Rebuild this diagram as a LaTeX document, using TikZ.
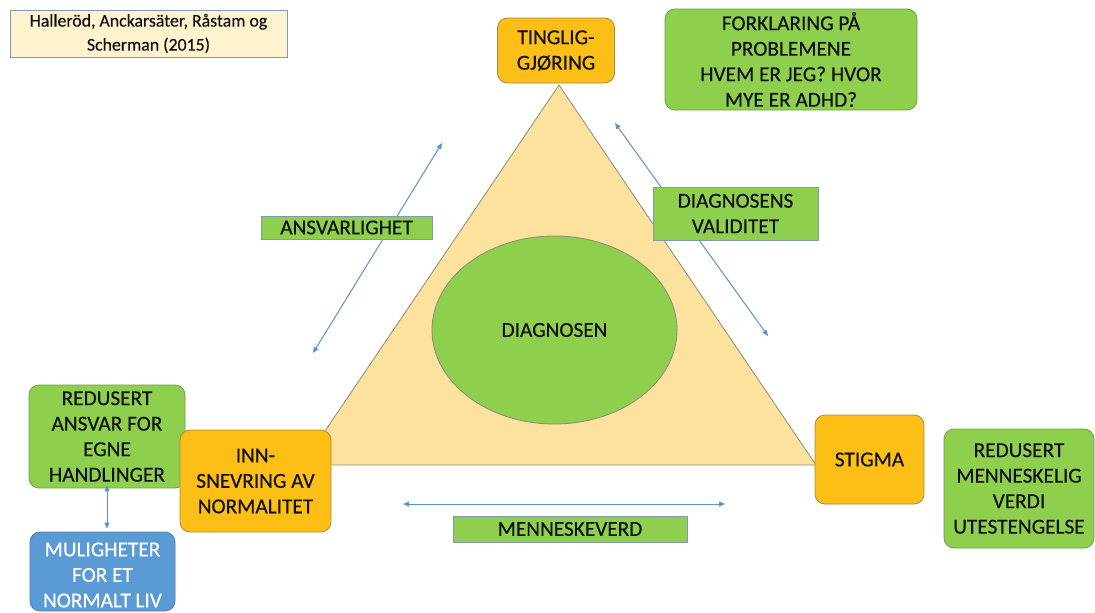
\documentclass[tikz,border=0pt]{standalone}
\usepackage{fontspec}
\setmainfont{Carlito}
\newfontface\labelfont{Carlito}[FakeBold=0.35]
\usetikzlibrary{arrows.meta,shapes.geometric}

\definecolor{boxgreen}{HTML}{8ECF4E}
\definecolor{greenline}{HTML}{6F9E45}
\definecolor{boxorange}{HTML}{FDBE16}
\definecolor{orangeline}{HTML}{A88A3C}
\definecolor{boxblue}{HTML}{5B9BD5}
\definecolor{blueline}{HTML}{4A7FB0}
\definecolor{trifill}{HTML}{FDE29E}
\definecolor{triline}{HTML}{8A8A80}
\definecolor{refill}{HTML}{FFF2CF}
\definecolor{refline}{HTML}{8197B4}
\definecolor{arrowblue}{HTML}{5B92CC}
\definecolor{ink}{HTML}{111111}

\tikzset{
  txt/.style={font=\labelfont\fontsize{21.3}{25.5}\selectfont, text=ink, align=center, inner sep=0pt},
  roundbox/.style={txt, rounded corners=10pt, line width=0.8pt},
  greenbox/.style={roundbox, fill=boxgreen, draw=greenline},
  orangebox/.style={roundbox, fill=boxorange, draw=orangeline},
  bluebox/.style={roundbox, fill=boxblue, draw=blueline, text=white},
  labelbox/.style={txt, fill=boxgreen, draw=refline, line width=0.7pt},
  refbox/.style={txt, font=\labelfont\fontsize{17.8}{24}\selectfont, fill=refill, draw=refline, line width=0.8pt},
  link/.style={draw=arrowblue, line width=1pt, {Triangle[length=6pt,width=5pt]}-{Triangle[length=6pt,width=5pt]}},
}

\begin{document}
\begin{tikzpicture}[x=1pt,y=-1pt]
  \useasboundingbox (0,0) rectangle (1095,613);

  % central triangle and the diagnosis ellipse
  \coordinate (tl) at (302,465);
  \coordinate (tr) at (816,465);
  \coordinate (tt) at (559,85);
  \draw[fill=trifill, draw=triline, line width=0.8pt] (tl) -- (tr) -- (tt) -- cycle;
  \node[txt, ellipse, fill=boxgreen, draw=triline, line width=0.8pt,
        minimum width=245pt, minimum height=188pt] (diag) at (554.5,330) {DIAGNOSEN};

  % double arrows along the sides
  \coordinate (a1) at (442,143);
  \coordinate (a2) at (313,353);
  \coordinate (b1) at (615,123);
  \coordinate (b2) at (768,336);
  \coordinate (c1) at (403,504);
  \coordinate (c2) at (725,504);
  \draw[link] (a1) -- (a2);
  \draw[link] (b1) -- (b2);
  \draw[link] (c1) -- (c2);

  % side labels
  \node[labelbox, minimum width=171pt, minimum height=23pt] (ansv) at (346.5,227.5) {ANSVARLIGHET};
  \node[labelbox, minimum width=165pt, minimum height=53pt] (valid) at (735.5,213.5) {DIAGNOSENS\\VALIDITET};
  \node[labelbox, minimum width=234pt, minimum height=26pt] (menn) at (570,529) {MENNESKEVERD};

  % reference
  \node[refbox, minimum width=277pt, minimum height=47pt] (ref) at (148.5,33.5)
    {Halleröd, Anckarsäter, Råstam og\\Scherman (2015)};

  % corner boxes
  \node[orangebox, minimum width=117pt, minimum height=65pt] (ting) at (556,50.5) {TINGLIG-\\GJØRING};
  \node[greenbox, minimum width=252pt, minimum height=101pt] (fork) at (791,59.5)
    {FORKLARING PÅ\\PROBLEMENE\\HVEM ER JEG? HVOR\\MYE ER ADHD?};

  \node[greenbox, minimum width=156pt, minimum height=103pt] (redans) at (107,436.5)
    {REDUSERT\\ANSVAR FOR\\EGNE\\HANDLINGER};
  \node[bluebox, minimum width=145pt, minimum height=79pt] (mul) at (102.5,571.5) {};
  \node[txt, text=white] (multxt) at (102.5,575) {MULIGHETER\\FOR ET\\NORMALT LIV};
  \node[orangebox, minimum width=151pt, minimum height=102pt] (inn) at (255.5,481)
    {INN-\\SNEVRING AV\\NORMALITET};

  \node[orangebox, minimum width=109pt, minimum height=89pt] (stig) at (869.5,459.5) {STIGMA};
  \node[greenbox, minimum width=150pt, minimum height=119pt] (redmenn) at (1019,488.5)
    {REDUSERT\\MENNESKELIG\\VERDI\\UTESTENGELSE};

  % link between the two left boxes
  \draw[link] ([yshift=3pt]redans.south) -- ([yshift=3pt]redans.south |- mul.north);
\end{tikzpicture}
\end{document}
